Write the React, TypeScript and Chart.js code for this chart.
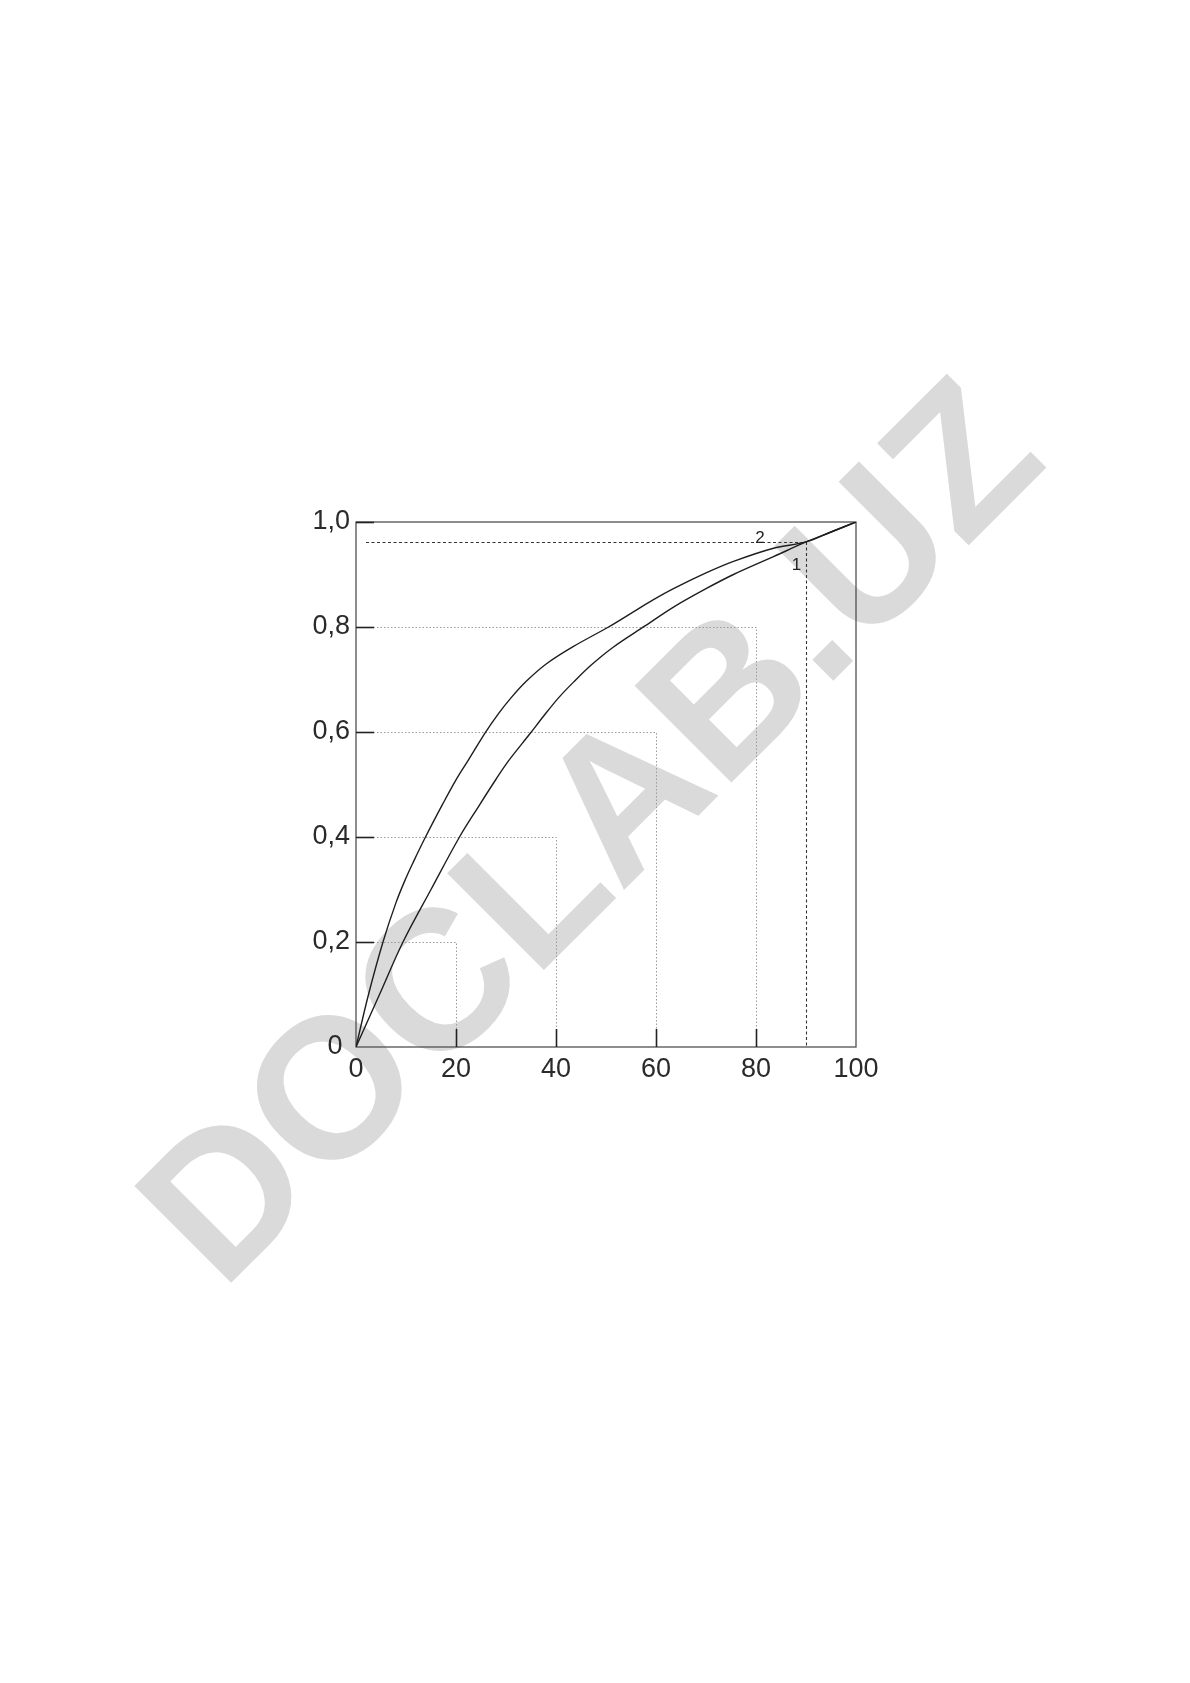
import React, { useEffect, useRef } from 'react';
import { Chart, registerables } from 'chart.js';

Chart.register(...registerables);

// Curve 2 (upper)
const curve2X = [0, 2.5, 5.4, 8, 10, 11.5, 13.8, 17.3, 20, 22.5, 25.8, 28.5, 31, 34.1, 38.1, 43.5, 50.5, 55, 59.5, 63.5, 70, 75.5, 83.5, 90, 95, 100];
const curve2Y = [0, 0.1, 0.2, 0.275, 0.322, 0.353, 0.398, 0.462, 0.509, 0.547, 0.598, 0.635, 0.665, 0.697, 0.73, 0.763, 0.8, 0.826, 0.852, 0.873, 0.903, 0.925, 0.95, 0.962, 0.981, 1.0];

// Curve 1 (lower)
const curve1X = [0, 4.7, 9.4, 15, 20.7, 24.5, 28, 30.5, 34.9, 37.5, 40.5, 43.5, 47.1, 51.5, 57.8, 63.5, 70, 75.5, 83.5, 90, 95, 100];
const curve1Y = [0, 0.1, 0.2, 0.3, 0.4, 0.458, 0.51, 0.545, 0.598, 0.63, 0.665, 0.695, 0.728, 0.762, 0.802, 0.838, 0.873, 0.9, 0.934, 0.962, 0.981, 1.0];

// Axis ticks
const xTickValues = [0, 20, 40, 60, 80, 100];
const yTickValues = [0, 0.2, 0.4, 0.6, 0.8, 1.0];
const yTickLabels = ['0', '0,2', '0,4', '0,6', '0,8', '1,0'];

// Reference (step) guides: x value paired with y value
const stepX = [20, 40, 60, 80];
const stepY = [0.2, 0.4, 0.6, 0.8];

// Marked point where the curves meet
const markX = 90;
const markY = 0.962;

// Curve labels
const curveLabelText = ['2', '1'];
const curveLabelX = [80.8, 88.1];
const curveLabelY = [0.968, 0.918];

const watermarkText = 'DOCLAB.UZ';

const FONT = '"Liberation Sans", Arial, Helvetica, sans-serif';

export default function App() {
  const ref = useRef<HTMLCanvasElement | null>(null);

  useEffect(() => {
    const canvas = ref.current;
    if (!canvas) return;

    const watermark = {
      id: 'watermark',
      beforeDraw(chart: any) {
        const ctx = chart.ctx;
        ctx.save();
        ctx.translate(221.8, 1292.2);
        ctx.rotate(-Math.PI / 4);
        ctx.font = `bold 199px ${FONT}`;
        ctx.fillStyle = '#dadada';
        ctx.textAlign = 'left';
        ctx.textBaseline = 'alphabetic';
        ctx.fillText(watermarkText, 0, 0);
        ctx.restore();
      },
    };

    const guides = {
      id: 'guides',
      beforeDatasetsDraw(chart: any) {
        const ctx = chart.ctx;
        const xs = chart.scales.x;
        const ys = chart.scales.y;
        const x0 = xs.getPixelForValue(0);
        const y0 = ys.getPixelForValue(0);
        ctx.save();
        // light dotted step guides
        ctx.strokeStyle = '#9a9a9a';
        ctx.lineWidth = 1;
        ctx.setLineDash([1.5, 2]);
        for (let i = 0; i < stepX.length; i++) {
          const px = Math.round(xs.getPixelForValue(stepX[i])) + 0.5;
          const py = Math.round(ys.getPixelForValue(stepY[i])) + 0.5;
          ctx.beginPath();
          ctx.moveTo(x0, py);
          ctx.lineTo(px, py);
          ctx.lineTo(px, y0);
          ctx.stroke();
        }
        // darker dashed marker lines
        ctx.strokeStyle = '#333';
        ctx.lineWidth = 1.1;
        ctx.setLineDash([3, 2.5]);
        const mx = Math.round(xs.getPixelForValue(markX)) + 0.5;
        const my = Math.round(ys.getPixelForValue(markY)) + 0.5;
        ctx.beginPath();
        ctx.moveTo(x0 + 10, my);
        ctx.lineTo(mx, my);
        ctx.lineTo(mx, y0);
        ctx.stroke();
        ctx.setLineDash([]);
        // frame
        const a = chart.chartArea;
        ctx.strokeStyle = '#505050';
        ctx.lineWidth = 1.3;
        ctx.strokeRect(a.left, a.top, a.right - a.left, a.bottom - a.top);
        ctx.restore();
      },
      afterDatasetsDraw(chart: any) {
        const ctx = chart.ctx;
        const xs = chart.scales.x;
        const ys = chart.scales.y;
        const a = chart.chartArea;
        ctx.save();
        ctx.strokeStyle = '#222';
        ctx.lineWidth = 1.6;
        // inward y ticks
        for (const v of yTickValues) {
          if (v === 0) continue;
          const py = Math.round(ys.getPixelForValue(v)) + 0.5;
          ctx.beginPath();
          ctx.moveTo(a.left, py);
          ctx.lineTo(a.left + 18, py);
          ctx.stroke();
        }
        // inward x ticks
        for (const v of xTickValues) {
          if (v === 0 || v === 100) continue;
          const px = Math.round(xs.getPixelForValue(v)) + 0.5;
          ctx.beginPath();
          ctx.moveTo(px, a.bottom);
          ctx.lineTo(px, a.bottom - 18);
          ctx.stroke();
        }
        // curve labels
        ctx.fillStyle = '#222';
        ctx.font = `17px ${FONT}`;
        ctx.textAlign = 'center';
        ctx.textBaseline = 'middle';
        for (let i = 0; i < curveLabelText.length; i++) {
          ctx.fillText(curveLabelText[i], xs.getPixelForValue(curveLabelX[i]), ys.getPixelForValue(curveLabelY[i]));
        }
        ctx.restore();
      },
    };

    const chart = new Chart(canvas, {
      type: 'line',
      data: {
        datasets: [
          {
            label: '1',
            data: curve1X.map((x, i) => ({ x, y: curve1Y[i] })),
            borderColor: '#1e1e1e',
            borderWidth: 1.4,
            pointRadius: 0,
            fill: false,
            tension: 0.35,
          },
          {
            label: '2',
            data: curve2X.map((x, i) => ({ x, y: curve2Y[i] })),
            borderColor: '#1e1e1e',
            borderWidth: 1.4,
            pointRadius: 0,
            fill: false,
            tension: 0.35,
          },
        ],
      },
      options: {
        responsive: false,
        animation: false,
        devicePixelRatio: 1,
        layout: { padding: { left: 296, top: 522, right: 334, bottom: 586 } },
        plugins: { legend: { display: false }, tooltip: { enabled: false }, title: { display: false } },
        scales: {
          x: {
            type: 'linear',
            min: 0,
            max: 100,
            afterFit: (s: any) => { s.height = 50; },
            afterBuildTicks: (s: any) => { s.ticks = xTickValues.map((v) => ({ value: v })); },
            grid: { display: false, drawTicks: false },
            border: { display: false },
            ticks: {
              padding: 6,
              color: '#2a2a2a',
              font: { family: FONT, size: 27 },
              maxRotation: 0,
              callback: (v: any) => String(v),
            },
          },
          y: {
            type: 'linear',
            min: 0,
            max: 1,
            afterFit: (s: any) => { s.width = 60; },
            afterBuildTicks: (s: any) => { s.ticks = yTickValues.map((v) => ({ value: v })); },
            grid: { display: false, drawTicks: false },
            border: { display: false },
            ticks: {
              padding: 6,
              color: '#2a2a2a',
              font: { family: FONT, size: 27 },
              callback: (v: any) => {
                const i = yTickValues.findIndex((t) => Math.abs(t - Number(v)) < 1e-9);
                const lbl = i >= 0 ? yTickLabels[i] : '';
                return i === 0 ? lbl + ' ' : lbl;
              },
            },
          },
        },
      },
      plugins: [watermark, guides],
    } as any);

    return () => chart.destroy();
  }, []);

  return (
    <div style={{ position: 'absolute', left: 0, top: 0, width: 1190, height: 1683, background: '#fff' }}>
      <canvas ref={ref} width={1190} height={1683} style={{ display: 'block', width: 1190, height: 1683 }} />
    </div>
  );
}
